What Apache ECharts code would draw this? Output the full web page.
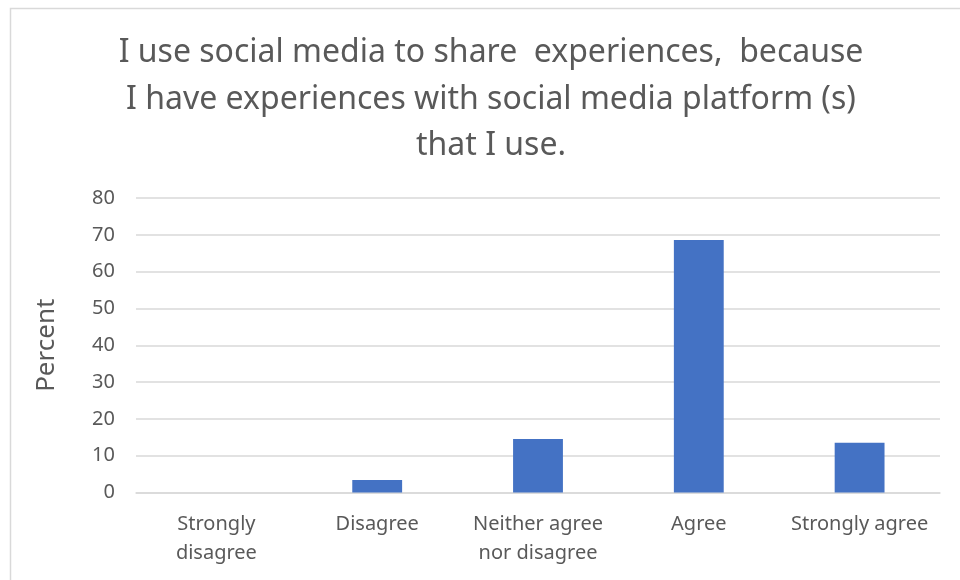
<!DOCTYPE html>
<html>
<head>
<meta charset="utf-8">
<script src="https://cdn.jsdelivr.net/npm/echarts@6/dist/echarts.min.js"></script>
<style>
html,body{margin:0;padding:0;background:#fff;}
#main{width:960px;height:580px;}
</style>
</head>
<body>
<div id="main"></div>
<script>
const titleText = "I use social media to share  experiences,  because\nI have experiences with social media platform (s)\nthat I use.";
const categories = ["Strongly\ndisagree", "Disagree", "Neither agree\nnor disagree", "Agree", "Strongly agree"];
const percentValues = [0, 3.4, 14.5, 68.6, 13.5];
const yAxisName = "Percent";

const chart = echarts.init(document.getElementById('main'), null, {renderer: 'canvas'});
const font = "Noto Sans";
chart.setOption({
  backgroundColor: '#ffffff',
  animation: false,
  graphic: [{
    type: 'rect', left: 8, top: 6, z: -1,
    shape: {width: 970, height: 600},
    style: {fill: 'none', stroke: '#d9d9d9', lineWidth: 1.5}
  }],
  title: {
    text: titleText,
    left: 486, top: 25, textAlign: 'center',
    textStyle: {fontFamily: font, fontSize: 32, fontWeight: 'normal', color: '#595959', lineHeight: 46.5}
  },
  grid: {left: 136, right: 20, top: 198, bottom: 87.5, containLabel: false},
  xAxis: {
    type: 'category', data: categories,
    axisLine: {lineStyle: {color: '#d9d9d9', width: 1.5}},
    axisTick: {show: false},
    axisLabel: {fontFamily: font, fontSize: 20, color: '#595959', margin: 17, lineHeight: 29, interval: 0}
  },
  yAxis: {
    type: 'value', min: 0, max: 80, interval: 10,
    name: yAxisName, nameLocation: 'middle', nameGap: 76,
    nameTextStyle: {fontFamily: font, fontSize: 26, color: '#595959'},
    axisLine: {show: false}, axisTick: {show: false},
    axisLabel: {fontFamily: font, fontSize: 20, color: '#595959', margin: 21},
    splitLine: {lineStyle: {color: '#d9d9d9', width: 1.5}}
  },
  series: [{
    type: 'bar', data: percentValues, barWidth: '31%',
    itemStyle: {color: '#4472c4'}
  }]
});
</script>
</body>
</html>
